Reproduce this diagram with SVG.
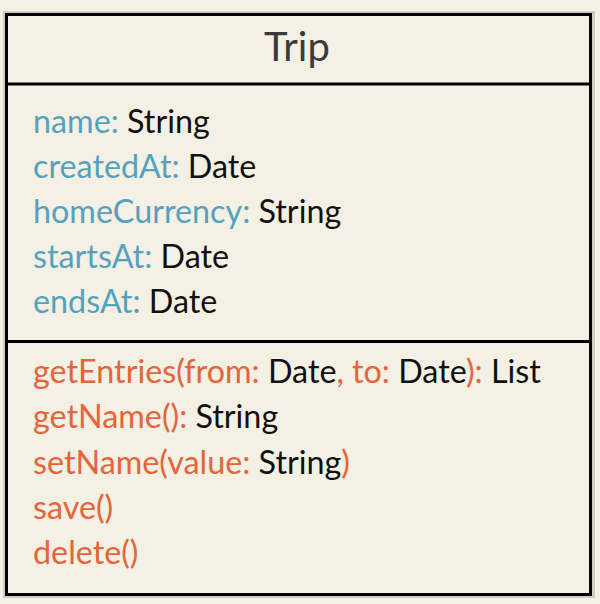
<svg xmlns="http://www.w3.org/2000/svg" width="600" height="604" viewBox="0 0 600 604">
<style>
.t{font-family:Lato,"Noto Sans",sans-serif;font-size:32.3px;fill:#111}
.a{fill:#54a2bf}
.m{fill:#e5643b}
.title{font-family:Lato,"Noto Sans",sans-serif;font-size:40px;fill:#3a3a3a;text-anchor:middle}
</style>
<rect width="600" height="604" fill="#f4f0e4"/>
<g id="Trip">
<rect x="4.5" y="12.5" width="589" height="584" fill="none" stroke="#cfccc4" stroke-width="3"/>
<rect x="6.5" y="14.5" width="584" height="580" fill="#f4f0e4" stroke="#000" stroke-width="3"/>
<line x1="6" y1="84" x2="591" y2="84" stroke="#000" stroke-width="3"/>
<line x1="6" y1="341.5" x2="591" y2="341.5" stroke="#000" stroke-width="3"/>
<text class="title" x="297" y="61">Trip</text>
<text class="t" x="33" y="133"><tspan class="a">name:</tspan> String</text>
<text class="t" x="33" y="178"><tspan class="a">createdAt:</tspan> Date</text>
<text class="t" x="33" y="223"><tspan class="a">homeCurrency:</tspan> String</text>
<text class="t" x="33" y="268"><tspan class="a">startsAt:</tspan> Date</text>
<text class="t" x="33" y="313"><tspan class="a">endsAt:</tspan> Date</text>
<text class="t" x="33" y="383"><tspan class="m">getEntries(from:</tspan> Date<tspan class="m">, to:</tspan> Date<tspan class="m">):</tspan> List</text>
<text class="t" x="33" y="428"><tspan class="m">getName():</tspan> String</text>
<text class="t" x="33" y="474"><tspan class="m">setName(value:</tspan> String<tspan class="m">)</tspan></text>
<text class="t" x="33" y="519"><tspan class="m">save()</tspan></text>
<text class="t" x="33" y="564"><tspan class="m">delete()</tspan></text>
</g>
</svg>
